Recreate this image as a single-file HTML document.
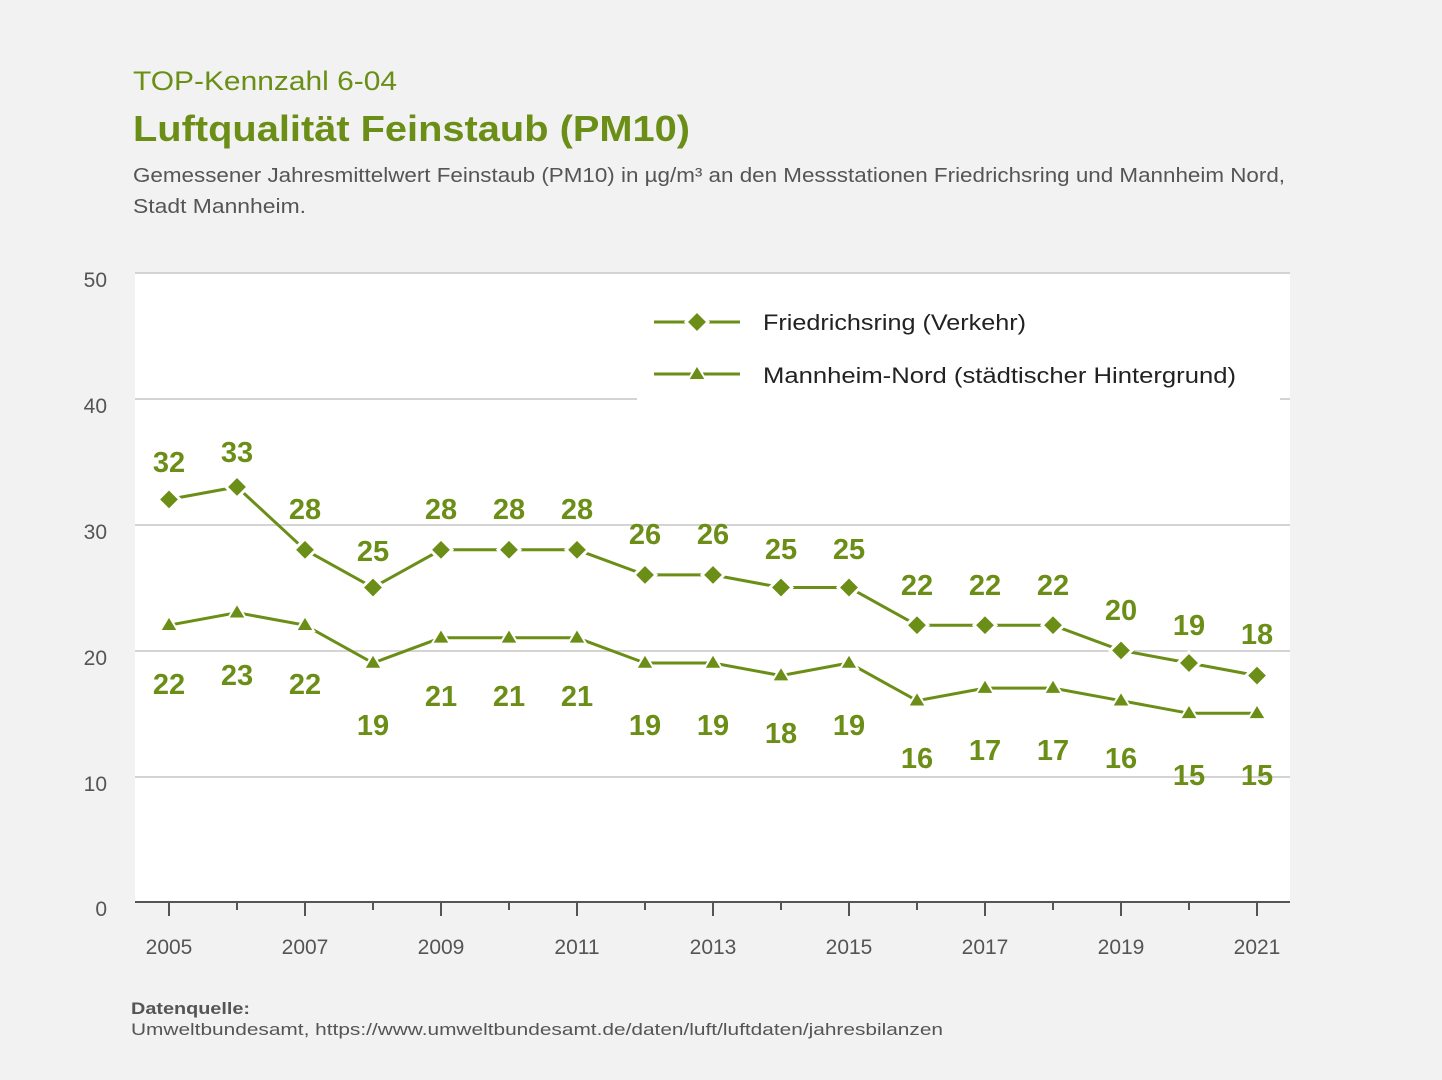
<!DOCTYPE html>
<html><head><meta charset="utf-8"><style>
html,body{margin:0;padding:0;background:#f2f2f2;}
svg{display:block;font-family:"Liberation Sans",sans-serif;}
</style></head><body>
<svg width="1442" height="1080" xmlns="http://www.w3.org/2000/svg">
<rect width="1442" height="1080" fill="#f2f2f2"/>
<text x="133" y="90" font-size="27" fill="#6b8e17" textLength="264" lengthAdjust="spacingAndGlyphs">TOP-Kennzahl 6-04</text>
<text x="133" y="141" font-size="36" font-weight="bold" fill="#6b8e17" textLength="557" lengthAdjust="spacingAndGlyphs">Luftqualität Feinstaub (PM10)</text>
<text x="133" y="182" font-size="20" fill="#555" textLength="1152" lengthAdjust="spacingAndGlyphs">Gemessener Jahresmittelwert Feinstaub (PM10) in µg/m³ an den Messstationen Friedrichsring und Mannheim Nord,</text>
<text x="133" y="213" font-size="20" fill="#555" textLength="173" lengthAdjust="spacingAndGlyphs">Stadt Mannheim.</text>
<rect x="135" y="273" width="1155" height="629" fill="#fff"/>
<g stroke="#d4d4d4" stroke-width="2">
<line x1="135" y1="273" x2="1290" y2="273"/>
<line x1="135" y1="399" x2="1290" y2="399"/>
<line x1="135" y1="525" x2="1290" y2="525"/>
<line x1="135" y1="651" x2="1290" y2="651"/>
<line x1="135" y1="777" x2="1290" y2="777"/>
</g>
<rect x="637" y="290" width="643" height="112" fill="#fff"/>
<g font-size="21" fill="#555" text-anchor="end">
<text x="107" y="287">50</text><text x="107" y="413">40</text><text x="107" y="539">30</text>
<text x="107" y="665">20</text><text x="107" y="791">10</text><text x="107" y="916">0</text>
</g>
<line x1="135" y1="902" x2="1290" y2="902" stroke="#555" stroke-width="2"/>
<g stroke="#555" stroke-width="2">
<line x1="169" y1="902" x2="169" y2="916"/><line x1="237" y1="902" x2="237" y2="910"/>
<line x1="305" y1="902" x2="305" y2="916"/><line x1="373" y1="902" x2="373" y2="910"/>
<line x1="441" y1="902" x2="441" y2="916"/><line x1="509" y1="902" x2="509" y2="910"/>
<line x1="577" y1="902" x2="577" y2="916"/><line x1="645" y1="902" x2="645" y2="910"/>
<line x1="713" y1="902" x2="713" y2="916"/><line x1="781" y1="902" x2="781" y2="910"/>
<line x1="849" y1="902" x2="849" y2="916"/><line x1="917" y1="902" x2="917" y2="910"/>
<line x1="985" y1="902" x2="985" y2="916"/><line x1="1053" y1="902" x2="1053" y2="910"/>
<line x1="1121" y1="902" x2="1121" y2="916"/><line x1="1189" y1="902" x2="1189" y2="910"/>
<line x1="1257" y1="902" x2="1257" y2="916"/>
</g>
<g font-size="21" fill="#555" text-anchor="middle">
<text x="169" y="954">2005</text><text x="305" y="954">2007</text><text x="441" y="954">2009</text>
<text x="577" y="954">2011</text><text x="713" y="954">2013</text><text x="849" y="954">2015</text>
<text x="985" y="954">2017</text><text x="1121" y="954">2019</text><text x="1257" y="954">2021</text>
</g>
<polyline fill="none" stroke="#6b8e17" stroke-width="3" points="169,499.4 237,486.9 305,549.8 373,587.5 441,549.8 509,549.8 577,549.8 645,574.9 713,574.9 781,587.5 849,587.5 917,625.2 985,625.2 1053,625.2 1121,650.4 1189,663 1257,675.6"/>
<polyline fill="none" stroke="#6b8e17" stroke-width="3" points="169,625.2 237,612.7 305,625.2 373,663 441,637.8 509,637.8 577,637.8 645,663 713,663 781,675.6 849,663 917,700.7 985,688.1 1053,688.1 1121,700.7 1189,713.3 1257,713.3"/>
<g fill="#6b8e17" stroke="#fff" stroke-width="3">
<path d="M169,488.4l11,11l-11,11l-11,-11z"/><path d="M237,475.9l11,11l-11,11l-11,-11z"/>
<path d="M305,538.8l11,11l-11,11l-11,-11z"/><path d="M373,576.5l11,11l-11,11l-11,-11z"/>
<path d="M441,538.8l11,11l-11,11l-11,-11z"/><path d="M509,538.8l11,11l-11,11l-11,-11z"/>
<path d="M577,538.8l11,11l-11,11l-11,-11z"/><path d="M645,563.9l11,11l-11,11l-11,-11z"/>
<path d="M713,563.9l11,11l-11,11l-11,-11z"/><path d="M781,576.5l11,11l-11,11l-11,-11z"/>
<path d="M849,576.5l11,11l-11,11l-11,-11z"/><path d="M917,614.2l11,11l-11,11l-11,-11z"/>
<path d="M985,614.2l11,11l-11,11l-11,-11z"/><path d="M1053,614.2l11,11l-11,11l-11,-11z"/>
<path d="M1121,639.4l11,11l-11,11l-11,-11z"/><path d="M1189,652l11,11l-11,11l-11,-11z"/>
<path d="M1257,664.6l11,11l-11,11l-11,-11z"/>
</g>
<g fill="#6b8e17" stroke="#fff" stroke-width="2">
<path d="M169,616l9,15h-18z"/><path d="M237,603.5l9,15h-18z"/><path d="M305,616l9,15h-18z"/>
<path d="M373,653.8l9,15h-18z"/><path d="M441,628.6l9,15h-18z"/><path d="M509,628.6l9,15h-18z"/>
<path d="M577,628.6l9,15h-18z"/><path d="M645,653.8l9,15h-18z"/><path d="M713,653.8l9,15h-18z"/>
<path d="M781,666.4l9,15h-18z"/><path d="M849,653.8l9,15h-18z"/><path d="M917,691.5l9,15h-18z"/>
<path d="M985,678.9l9,15h-18z"/><path d="M1053,678.9l9,15h-18z"/><path d="M1121,691.5l9,15h-18z"/>
<path d="M1189,704.1l9,15h-18z"/><path d="M1257,704.1l9,15h-18z"/>
</g>
<g font-size="29" font-weight="bold" fill="#6b8e17" text-anchor="middle">
<text x="169" y="472">32</text><text x="237" y="462">33</text><text x="305" y="519">28</text>
<text x="373" y="561">25</text><text x="441" y="519">28</text><text x="509" y="519">28</text>
<text x="577" y="519">28</text><text x="645" y="544">26</text><text x="713" y="544">26</text>
<text x="781" y="559">25</text><text x="849" y="559">25</text><text x="917" y="595">22</text>
<text x="985" y="595">22</text><text x="1053" y="595">22</text><text x="1121" y="620">20</text>
<text x="1189" y="635">19</text><text x="1257" y="644">18</text>
<text x="169" y="694">22</text><text x="237" y="685">23</text><text x="305" y="694">22</text>
<text x="373" y="735">19</text><text x="441" y="706">21</text><text x="509" y="706">21</text>
<text x="577" y="706">21</text><text x="645" y="735">19</text><text x="713" y="735">19</text>
<text x="781" y="743">18</text><text x="849" y="735">19</text><text x="917" y="768">16</text>
<text x="985" y="760">17</text><text x="1053" y="760">17</text><text x="1121" y="768">16</text>
<text x="1189" y="785">15</text><text x="1257" y="785">15</text>
</g>
<g stroke="#6b8e17" stroke-width="3"><line x1="654" y1="322" x2="740" y2="322"/><line x1="654" y1="374" x2="740" y2="374"/></g>
<path d="M697,311l11,11l-11,11l-11,-11z" fill="#6b8e17" stroke="#fff" stroke-width="3"/>
<path d="M697,365l9,15h-18z" fill="#6b8e17" stroke="#fff" stroke-width="2"/>
<text x="763" y="330" font-size="22" fill="#222" textLength="263" lengthAdjust="spacingAndGlyphs">Friedrichsring (Verkehr)</text>
<text x="763" y="383" font-size="22" fill="#222" textLength="473" lengthAdjust="spacingAndGlyphs">Mannheim-Nord (städtischer Hintergrund)</text>
<text x="131" y="1014" font-size="17" font-weight="bold" fill="#555" textLength="119" lengthAdjust="spacingAndGlyphs">Datenquelle:</text>
<text x="131" y="1035" font-size="17" fill="#555" textLength="812" lengthAdjust="spacingAndGlyphs">Umweltbundesamt, https://www.umweltbundesamt.de/daten/luft/luftdaten/jahresbilanzen</text>
</svg>
</body></html>
